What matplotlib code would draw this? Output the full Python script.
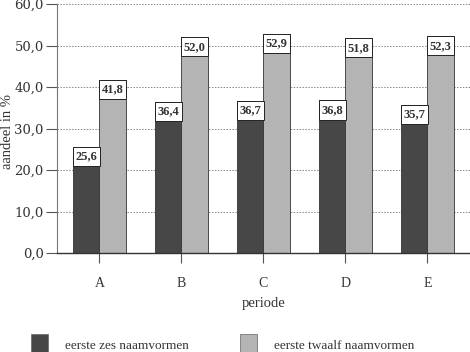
import numpy as np
import matplotlib
matplotlib.use("Agg")
import matplotlib.pyplot as plt
from matplotlib.patches import Rectangle

# Data
periods = ["A", "B", "C", "D", "E"]
zes = [25.6, 36.4, 36.7, 36.8, 35.7]
twaalf = [41.8, 52.0, 52.9, 51.8, 52.3]
series_names = ["eerste zes naamvormen", "eerste twaalf naamvormen"]
yticks = [0, 10, 20, 30, 40, 50, 60]

dark = "#474747"
light = "#b4b4b4"
txt = "#333333"

plt.rcParams['font.family'] = ['Liberation Serif', 'DejaVu Serif']

fig = plt.figure(figsize=(4.7, 3.52), dpi=100)
ax = fig.add_axes([0.121, 0.281, 0.879, 0.707])

x = np.arange(len(periods))
w = 0.32
box_w = 0.33
box_h = 4.6

for vals, col, off in [(zes, dark, -w / 2), (twaalf, light, w / 2)]:
    ax.bar(x + off, vals, width=w, color=col, edgecolor="#333333", linewidth=0.6, zorder=2)
    # white value boxes sit on top of the bars, top edge at the value
    bottoms = [v - box_h for v in vals]
    ax.bar(x + off, [box_h] * len(vals), bottom=bottoms, width=box_w,
           color="white", edgecolor="#222222", linewidth=0.7, zorder=3)
    for xi, v in zip(x + off, vals):
        ax.text(xi, v - box_h / 2, f"{v:.1f}".replace(".", ","), ha="center", va="center",
                fontsize=9, fontweight="bold", color=txt, zorder=4)

ax.set_xlim(-0.52, 4.52)
ax.set_ylim(0, 60)
ax.set_yticks(yticks)
ax.set_yticklabels([f"{t:.1f}".replace(".", ",") for t in yticks],
                   fontsize=9.5, color=txt, family="DejaVu Serif")
ax.set_xticks(x)
ax.set_xticklabels(periods, fontsize=10, color=txt)
ax.tick_params(axis="y", direction="out", length=8, width=0.8, color="#555555", pad=1.5)
ax.tick_params(axis="x", direction="out", length=7, width=0.8, color="#555555", pad=10)

ax.yaxis.grid(True, linestyle=(0, (1.5, 1.5)), color="#888888", linewidth=0.7, zorder=0)
ax.set_axisbelow(True)
for s in ["top", "right"]:
    ax.spines[s].set_visible(False)
ax.spines["left"].set_color("#777777")
ax.spines["bottom"].set_color("#333333")
ax.spines["bottom"].set_linewidth(1.0)

ax.set_ylabel("aandeel in %", fontsize=10.5, color=txt)
ax.yaxis.set_label_coords(-0.104, 0.488)
ax.set_xlabel("periode", fontsize=10.5, color=txt, labelpad=5)

# legend at the bottom
for lx, col, name in [(31, dark, series_names[0]), (240, light, series_names[1])]:
    fig.patches.append(Rectangle((lx / 470, 0), 17 / 470, 18 / 352, transform=fig.transFigure,
                                 facecolor=col, edgecolor="#666666", linewidth=0.5))
    fig.text((lx + 34) / 470, 6 / 352, name, fontsize=9.5, color=txt, va="center", ha="left")

fig.savefig("out.png", dpi=100)
